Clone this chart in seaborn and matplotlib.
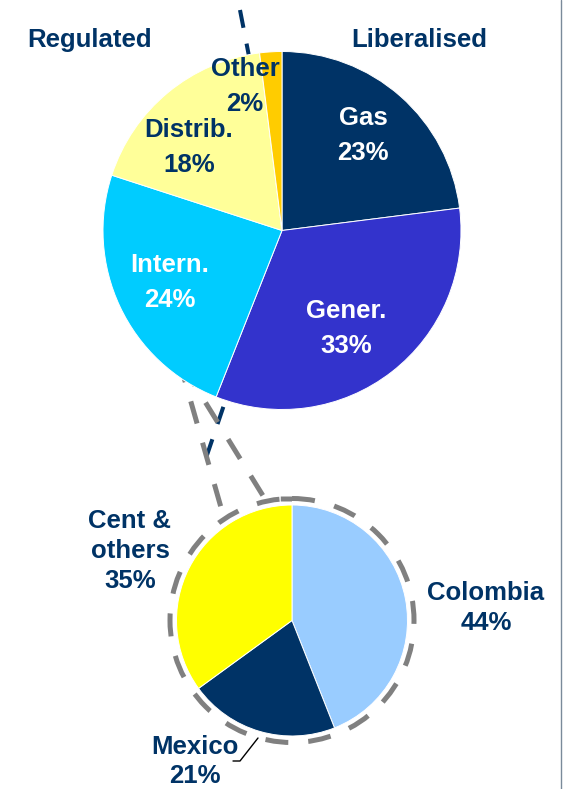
import matplotlib
matplotlib.use("Agg")
import matplotlib.pyplot as plt
from matplotlib.patches import Circle
import seaborn as sns

# Business mix (% of total)
segments = ["Gas", "Gener.", "Intern.", "Distrib.", "Other"]
segment_share = [23, 33, 24, 18, 2]
segment_colors = ["#003366", "#3333CC", "#00CCFF", "#FFFF99", "#FFCC00"]
segment_text = ["white", "white", "white", "#003366", "#003366"]

# International breakdown (% of Intern.)
countries = ["Colombia", "Mexico", "Cent &\nothers"]
country_share = [44, 21, 35]
country_colors = ["#99CCFF", "#003366", "#FFFF00"]

group_titles = ["Regulated", "Liberalised"]

NAVY = "#003366"
GREY = "#808080"
W, H = 563, 789
FS = 18.5
FS_PX = FS * 100 / 72
CAP_HALF = 0.716 * FS_PX / 2

sns.set_theme(style="white")
plt.rcParams["font.family"] = ["Liberation Sans", "DejaVu Sans"]
plt.rcParams["font.weight"] = "bold"

fig = plt.figure(figsize=(W / 100, H / 100), dpi=100)
fig.patch.set_facecolor("white")


def px_axes(zorder):
    ax = fig.add_axes([0, 0, 1, 1], zorder=zorder)
    ax.set_xlim(0, W)
    ax.set_ylim(H, 0)
    ax.set_axis_off()
    ax.patch.set_alpha(0)
    return ax


def pie_axes(cx, cy, r, zorder):
    ax = fig.add_axes([(cx - r) / W, 1 - (cy + r) / H, 2 * r / W, 2 * r / H],
                      zorder=zorder)
    ax.set_axis_off()
    ax.patch.set_alpha(0)
    return ax


bg = px_axes(0)

# Regulated / liberalised divider running behind the main pie
bg.plot([240, 283, 206], [10, 231, 458], color=NAVY, lw=2.9,
        linestyle=(0, (4.5, 4.0)), solid_capstyle="butt")

# Connectors from the international wedge to the zoomed pie
dash = (0, (4.6, 4.0))
bg.plot([179, 224], [360, 518], color=GREY, lw=3.6, linestyle=dash)
bg.plot([183, 265, 292], [366, 499, 499], color=GREY, lw=3.6, linestyle=dash)

# Zoom ring around the breakdown pie
bg.add_patch(Circle((292, 620.5), 122, fill=False, edgecolor=GREY, lw=3.6,
                    linestyle=dash))

# Page frame line on the right
bg.plot([560.5, 560.5], [0, H], color="#7A8A9A", lw=1.0)

# Main pie
ax_main = pie_axes(282, 230.5, 179, 1)
ax_main.pie(segment_share, colors=segment_colors, startangle=90,
            counterclock=False, radius=1,
            wedgeprops=dict(edgecolor="white", linewidth=0.7))
ax_main.set_xlim(-1, 1)
ax_main.set_ylim(-1, 1)

# Breakdown pie
ax_small = pie_axes(292, 620.5, 115.5, 1)
ax_small.pie(country_share, colors=country_colors, startangle=90,
             counterclock=False, radius=1,
             wedgeprops=dict(edgecolor="white", linewidth=0.7))
ax_small.set_xlim(-1, 1)
ax_small.set_ylim(-1, 1)

fg = px_axes(2)


def stacked_label(x, y, step, lines, color):
    for i, line in enumerate(lines):
        fg.text(x, y + i * step + CAP_HALF, line, ha="center", va="baseline",
                fontsize=FS, fontweight="bold", color=color)


# Group titles
title_pos = [(90, 38), (419, 38)]
for t, (x, y) in zip(group_titles, title_pos):
    stacked_label(x, y, 0, [t], NAVY)

# Segment labels
segment_label_pos = [(363, 116), (346, 309), (170, 263), (189, 128), (245, 67)]
for name, val, col, (x, y) in zip(segments, segment_share, segment_text,
                                   segment_label_pos):
    stacked_label(x, y, 34.5, f"{name}\n{val}%".split("\n"), col)

# Country labels
country_label_pos = [(486, 591), (195, 745), (130, 519)]
country_steps = [30, 28.5, 30]
for name, val, (x, y), step in zip(countries, country_share,
                                   country_label_pos, country_steps):
    stacked_label(x, y, step, f"{name}\n{val}%".split("\n"), NAVY)

# Leader line for the Mexico label
fg.plot([233, 240, 258], [761, 761, 738], color="black", lw=1.0)

fig.savefig("out.png", dpi=100, facecolor="white")
